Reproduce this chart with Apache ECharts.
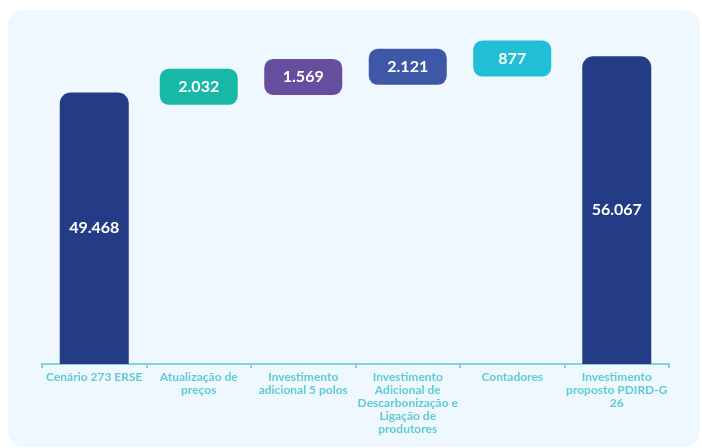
<!DOCTYPE html>
<html>
<head>
<meta charset="utf-8">
<script src="https://cdn.jsdelivr.net/npm/echarts@6/dist/echarts.min.js"></script>
<style>
html,body{margin:0;padding:0;background:#ffffff;}
#c{width:702px;height:448px;}
</style>
</head>
<body>
<div id="c"></div>
<script>
const categories = [
  'Cenário 273 ERSE',
  'Atualização de\npreços',
  'Investimento\nadicional 5 polos',
  'Investimento\nAdicional de\nDescarbonização e\nLigação de\nprodutores',
  'Contadores',
  'Investimento\nproposto PDIRD-G\n26'
];
const startValue = 49468;
const increments = [2032, 1569, 2121, 877];
const totalValue = 56067;
const incrementColors = ['#17b8a6', '#674d9e', '#3e58a7', '#20bfd6'];

function fmt(v){
  return String(v).replace(/\B(?=(\d{3})+(?!\d))/g, '.');
}

const n = categories.length;
const totals = new Array(n).fill('-');
totals[0] = startValue;
totals[n-1] = totalValue;
const bases = new Array(n).fill('-');
const deltas = new Array(n).fill('-');
let acc = startValue;
increments.forEach((d, i) => {
  bases[i+1] = acc;
  deltas[i+1] = {
    value: d,
    itemStyle: {color: incrementColors[i]},
    label: {backgroundColor: incrementColors[i]}
  };
  acc += d;
});

const chart = echarts.init(document.getElementById('c'));
chart.setOption({
  backgroundColor: '#ffffff',
  animation: false,
  graphic: [{
    type: 'rect', z: -10, silent: true,
    shape: {x: 8, y: 10, width: 692, height: 437, r: 15},
    style: {fill: '#eff8fe'}
  }],
  grid: {left: 42, right: 33, top: 34.6, bottom: 84},
  xAxis: {
    type: 'category',
    data: categories,
    axisLine: {lineStyle: {color: '#80d5dd', width: 2}},
    axisTick: {show: true, length: 4, lineStyle: {color: '#80d5dd', width: 2}},
    axisLabel: {
      interval: 0, margin: 7,
      color: '#5fcbd5', fontFamily: 'Lato', fontWeight: 'bold',
      fontSize: 12, lineHeight: 13
    }
  },
  yAxis: {type: 'value', min: 0, max: 60000, show: false, splitLine: {show: false}},
  series: [
    {
      type: 'bar', data: totals, barWidth: 69, barGap: '-100%',
      itemStyle: {color: '#233c85', borderRadius: [11, 11, 0, 0]},
      label: {
        show: true, position: 'inside', color: '#ffffff',
        fontFamily: 'Lato', fontWeight: 'bold', fontSize: 16,
        formatter: p => fmt(p.value)
      }
    },
    {
      type: 'bar', stack: 'w', data: bases, barWidth: 69,
      itemStyle: {color: 'rgba(0,0,0,0)'}, silent: true
    },
    {
      type: 'bar', stack: 'w', data: deltas, barWidth: 69,
      label: {
        show: true, position: 'inside', color: '#ffffff',
        fontFamily: 'Lato', fontWeight: 'bold', fontSize: 16,
        width: 78, height: 36, lineHeight: 36, align: 'center',
        borderRadius: 9, padding: 0,
        formatter: p => fmt(p.value)
      }
    }
  ]
});
</script>
</body>
</html>
